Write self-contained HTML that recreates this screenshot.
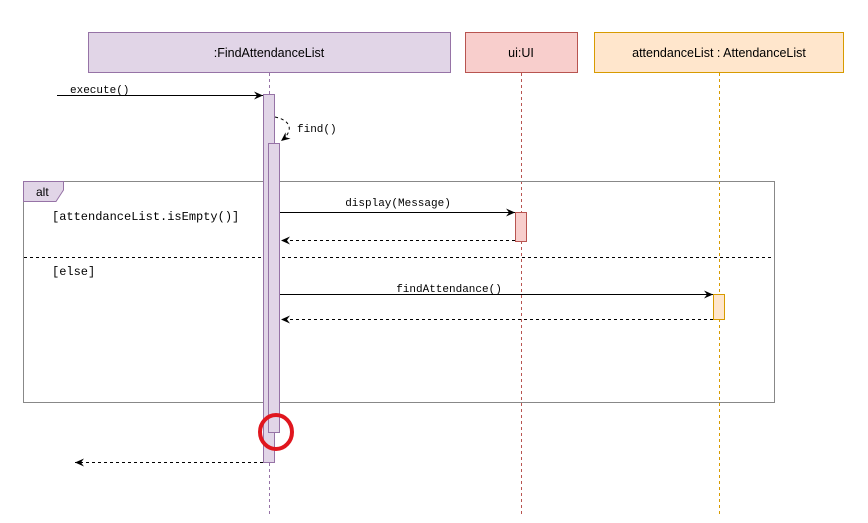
<!DOCTYPE html>
<html><head><style>body{margin:0;background:#fff}svg{display:block}</style></head><body>
<svg width="868" height="523" xmlns="http://www.w3.org/2000/svg">
<defs>
<marker id="a" markerWidth="10" markerHeight="8" refX="9" refY="4" orient="auto" markerUnits="userSpaceOnUse"><path d="M0,0 L9,4 L0,8 L3,4 Z" fill="#000"/></marker>
<marker id="o" markerWidth="10" markerHeight="8" refX="9" refY="4" orient="auto" markerUnits="userSpaceOnUse"><path d="M0,0 L9,4 L0,8 L3,4 Z" fill="#000"/></marker>
</defs>
<g font-family="Liberation Sans, sans-serif" font-size="12.5">
<rect x="88.5" y="32.5" width="362" height="40" fill="#e1d5e7" stroke="#9673a6"/>
<text x="269" y="57" text-anchor="middle">:FindAttendanceList</text>
<rect x="465.5" y="32.5" width="112" height="40" fill="#f8cecc" stroke="#b85450"/>
<text x="521" y="57" text-anchor="middle">ui:UI</text>
<rect x="594.5" y="32.5" width="249" height="40" fill="#ffe6cc" stroke="#d79b00"/>
<text x="719" y="57" text-anchor="middle">attendanceList : AttendanceList</text>
</g>
<line x1="269.5" y1="73" x2="269.5" y2="515" stroke="#9673a6" stroke-dasharray="3,3"/>
<line x1="521.5" y1="73" x2="521.5" y2="515" stroke="#b85450" stroke-dasharray="3,3"/>
<line x1="719.5" y1="73" x2="719.5" y2="515" stroke="#d79b00" stroke-dasharray="3,3"/>
<rect x="23.5" y="181.5" width="751" height="221" fill="none" stroke="#888"/>
<path d="M23.5,181.5 H63.5 V190 L56,201.5 H23.5 Z" fill="#e1d5e7" stroke="#9673a6"/>
<text x="36" y="196" font-family="Liberation Sans, sans-serif" font-size="12">alt</text>
<line x1="24" y1="257.5" x2="774" y2="257.5" stroke="#000" stroke-dasharray="3,3"/>
<rect x="263.5" y="94.5" width="11" height="368" fill="#e1d5e7" stroke="#9673a6"/>
<rect x="268.5" y="143.5" width="11" height="289" fill="#e1d5e7" stroke="#9673a6"/>
<rect x="515.5" y="212.5" width="11" height="29" fill="#f8cecc" stroke="#b85450"/>
<rect x="713.5" y="294.5" width="11" height="25" fill="#ffe6cc" stroke="#d79b00"/>
<g font-family="Liberation Mono, monospace" font-size="11">
<line x1="57" y1="95.5" x2="263" y2="95.5" stroke="#000" marker-end="url(#a)"/>
<text x="70" y="93">execute()</text>
<path d="M275,117 C290,120 295,130 281,141" fill="none" stroke="#000" stroke-dasharray="3,3" marker-end="url(#a)"/>
<text x="297" y="132">find()</text>
<line x1="280" y1="212.5" x2="515" y2="212.5" stroke="#000" marker-end="url(#a)"/>
<text x="398" y="206" text-anchor="middle">display(Message)</text>
<line x1="515" y1="240.5" x2="281" y2="240.5" stroke="#000" stroke-dasharray="3,3" marker-end="url(#o)"/>
<text x="52" y="220" font-size="12">[attendanceList.isEmpty()]</text>
<text x="52" y="275" font-size="12">[else]</text>
<line x1="280" y1="294.5" x2="713" y2="294.5" stroke="#000" marker-end="url(#a)"/>
<text x="449" y="292" text-anchor="middle">findAttendance()</text>
<line x1="713" y1="319.5" x2="281" y2="319.5" stroke="#000" stroke-dasharray="3,3" marker-end="url(#o)"/>
<line x1="263" y1="462.5" x2="75" y2="462.5" stroke="#000" stroke-dasharray="3,3" marker-end="url(#o)"/>
</g>
<ellipse cx="276" cy="432" rx="16" ry="17" fill="none" stroke="#e0161e" stroke-width="4"/>
</svg>
</body></html>
